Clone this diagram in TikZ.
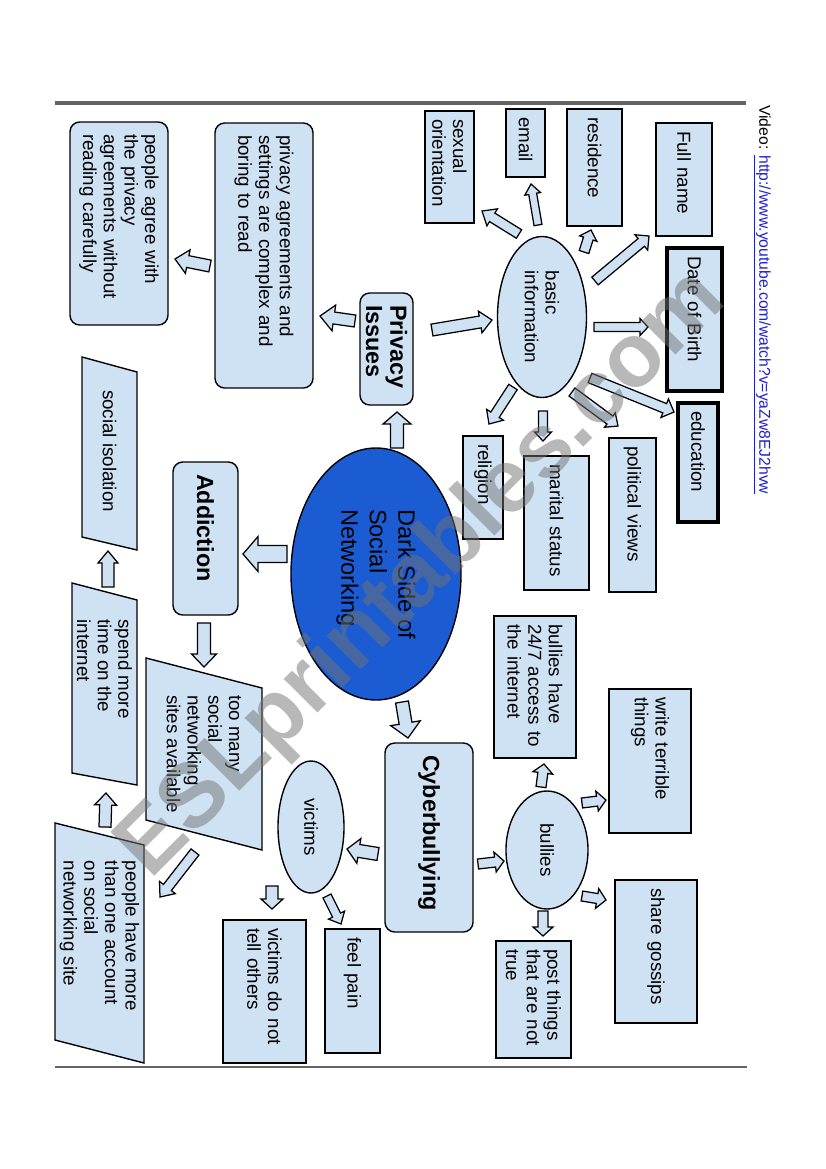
\documentclass[tikz,border=0pt]{standalone}
\usepackage{fontspec}
\setmainfont{Liberation Sans}
\usetikzlibrary{calc,shapes.geometric,backgrounds}
\definecolor{lb}{RGB}{207,226,243}
\definecolor{darkblue}{RGB}{28,92,210}
\definecolor{linegray}{RGB}{100,100,100}
\definecolor{urlblue}{RGB}{30,30,210}
\newcommand\bodyfont{\fontsize{13.5}{14.9}\selectfont}
\newcommand\boldfont{\bfseries\fontsize{16.8}{17.5}\selectfont}
% #1 body width, #2 head width, #3 head length (px), #4 tail, #5 tip
\newcommand\blockarr[5]{%
 \draw[fatarr] let \p1=#4, \p2=#5, \n1={atan2(\y2-\y1,\x2-\x1)}, \n2={veclen(\x2-\x1,\y2-\y1)} in
 ($(\p1)+(\n1+90:#1*0.36pt)$) -- ($(\p1)+(\n1:\n2-#3*0.72pt)+(\n1+90:#1*0.36pt)$) --
 ($(\p1)+(\n1:\n2-#3*0.72pt)+(\n1+90:#2*0.36pt)$) -- (\p2) --
 ($(\p1)+(\n1:\n2-#3*0.72pt)+(\n1-90:#2*0.36pt)$) -- ($(\p1)+(\n1:\n2-#3*0.72pt)+(\n1-90:#1*0.36pt)$) --
 ($(\p1)+(\n1-90:#1*0.36pt)$) -- cycle;}
\tikzset{
 base/.style={rotate=-90, font=\bodyfont, fill=lb, align=left, inner ysep=0pt},
 sq/.style n args={2}{base, draw=black, line width=1.5pt, minimum height=#1*0.72pt,
   minimum width=#2*0.72pt, inner xsep=8*0.72pt, text width=(#2-16)*0.72pt},
 rbox/.style n args={2}{base, draw=black, line width=1pt, rounded corners=7pt, minimum height=#1*0.72pt,
   minimum width=#2*0.72pt, inner xsep=12*0.72pt, text width=(#2-24)*0.72pt},
 ell/.style n args={2}{base, ellipse, draw=black, line width=1pt, inner sep=0pt,
   minimum width=#2*0.72pt, minimum height=#1*0.72pt},
 para/.style={rotate=-90, font=\bodyfont, align=left, inner sep=0pt},
 parashape/.style={draw=black, line width=1pt, fill=lb, line join=miter},
 fatarr/.style={draw=black, line width=0.9pt, fill=lb, line join=miter},
}
\begin{document}
\begin{tikzpicture}[x=0.72pt, y=-0.72pt]
\useasboundingbox (0,0) rectangle (826,1169);
% rules
\draw[linegray, line width=4*0.72pt] (55,103) -- (746,103);
\draw[linegray, line width=1.5*0.72pt] (55,1067) -- (747,1067);
% video link
\node[rotate=-90, anchor=west, inner sep=0pt, font=\fontsize{11.3}{13}\selectfont] (video) at (762,105)
 {Video: \textcolor{urlblue}{\underline{http://www.youtube.com/watch?v=yaZw8EJ2hvw}}};

% central node
\node[ellipse, rotate=-90, draw=black, line width=1pt, fill=darkblue, minimum width=252*0.72pt,
  minimum height=170*0.72pt, inner sep=0pt, align=left, font=\fontsize{17}{20.5}\selectfont] (dark) at (376,574)
  {Dark Side of\\Social\\Networking};

% privacy branch
\node[rbox={53}{112}, font=\boldfont] (privacy) at (386.5,349) {Privacy\\Issues};
\node[rbox={98}{265}] (privag) at (264,255.5) {privacy agreements and\\settings are complex and\\boring to read};
\node[rbox={98}{203}] (agree) at (119,223.5) {people agree with\\the privacy\\agreements without\\reading carefully};
\node[ell={89}{161}] (basic) at (542,317) {basic\\information};
\node[sq={49}{112}] (sexor) at (449.5,167) {sexual\\orientation};
\node[sq={39}{68}] (email) at (525.5,143) {email};
\node[sq={55}{117}] (resid) at (594.5,167.5) {residence};
\node[sq={56}{113}] (fullname) at (684,179.5) {Full name};
\node[sq={55}{143}, line width=2.2pt] (dob) at (694.5,319.5) {Date of Birth};
\node[sq={40}{119}, line width=2.2pt] (educ) at (698,462.5) {education};
\node[sq={47}{154}] (polit) at (632.5,515) {political views};
\node[sq={65}{134}] (marital) at (556.5,523) {marital status};
\node[sq={40}{103}] (relig) at (483,487.5) {religion};

% addiction branch
\node[rbox={65}{153}, font=\boldfont] (addict) at (205.5,538.5) {Addiction};
\node[para] (isol) at (109.5,451) {social isolation};
\node[para] (spend) at (104.5,669) {spend more\\time on the\\internet};
\node[para] (toomany) at (204,754) {too many\\social\\networking\\sites available};
\node[para] (people) at (99.5,936) {people have more\\than one account\\on social\\networking site};
\begin{scope}[on background layer]
\fill[white] (0,0) rectangle (826,1169);
\draw[parashape] ($(isol)+(-27.5,-94)$) -- ($(isol)+(27.5,-79)$) -- ($(isol)+(27.5,99)$) -- ($(isol)+(-27.5,86)$) -- cycle;
\draw[parashape] ($(spend)+(-32.5,-86)$) -- ($(spend)+(32.5,-69)$) -- ($(spend)+(32.5,116)$) -- ($(spend)+(-32.5,104)$) -- cycle;
\draw[parashape] ($(toomany)+(-58,-96)$) -- ($(toomany)+(58,-66)$) -- ($(toomany)+(58,96)$) -- ($(toomany)+(-58,66)$) -- cycle;
\draw[parashape] ($(people)+(-44.5,-113)$) -- ($(people)+(44.5,-91)$) -- ($(people)+(44.5,127)$) -- ($(people)+(-44.5,104)$) -- cycle;
\end{scope}

% cyberbullying branch
\node[rbox={88}{189}, font=\boldfont] (cyber) at (429,837.5) {Cyberbullying};
\node[ell={66}{132}] (victims) at (311,827) {victims};
\node[sq={83}{143}] (tell) at (264.5,991.5) {victims do not\\tell others};
\node[sq={55}{124}] (pain) at (352.5,991) {feel pain};
\node[ell={82}{118}] (bullies) at (547,850) {bullies};
\node[sq={82}{142}] (access) at (535,687) {bullies have\\24/7 access to\\the internet};
\node[sq={82}{144}] (write) at (650,761) {write terrible\\things};
\node[sq={82}{143}] (share) at (656,951.5) {share gossips};
\node[sq={75}{117}] (post) at (533.5,999.5) {post things\\that are not\\true};

% block arrows
\blockarr{12}{26}{14}{($(privacy)+(-31.5,-28)$)}{($(privag)+(56,60.5)$)}
\blockarr{12}{24}{13}{($(privag)+(-54,10.5)$)}{($(agree)+(56,35.5)$)}
\blockarr{13}{28}{12}{($(dark)+(21,-126)$)}{($(privacy)+(10.5,63)$)}
\blockarr{12}{22}{12}{($(privacy)+(45.5,-19)$)}{($(basic)+(-50,3)$)}
\blockarr{9}{17}{8}{($(basic)+(52,10)$)}{($(dob)+(-46.5,7.5)$)}
\blockarr{10}{20}{10}{($(basic)+(53,-36)$)}{($(fullname)+(-35,56.5)$)}
\blockarr{10}{18}{9}{($(basic)+(42,-65)$)}{($(resid)+(-3.5,62.5)$)}
\blockarr{8}{16}{10}{($(basic)+(-4,-92)$)}{($(email)+(5.5,41)$)}
\blockarr{10}{20}{12}{($(basic)+(-23,-83)$)}{($(sexor)+(32.5,44)$)}
\blockarr{10}{20}{10}{($(basic)+(48,61)$)}{($(educ)+(-24,-50.5)$)}
\blockarr{10}{18}{10}{($(basic)+(30,75)$)}{($(polit)+(-14.5,-89)$)}
\blockarr{9}{17}{9}{($(basic)+(1,94)$)}{($(marital)+(-13.5,-82)$)}
\blockarr{10}{20}{11}{($(basic)+(-29,70)$)}{($(relig)+(6,-63.5)$)}
\blockarr{17}{35}{15}{($(dark)+(-89,-20)$)}{($(addict)+(37.5,15.5)$)}
\blockarr{13}{25}{13}{($(addict)+(-1.5,84.5)$)}{($(toomany)+(0,-87)$)}
\blockarr{12}{20}{12}{($(spend)+(3.5,-82)$)}{($(isol)+(-1.5,100)$)}
\blockarr{12}{22}{12}{($(people)+(5.5,-109)$)}{($(spend)+(1.5,124)$)}
\blockarr{10}{20}{12}{($(toomany)+(-9,98)$)}{($(people)+(60.5,-39)$)}
\blockarr{13}{30}{15}{($(dark)+(26,128)$)}{($(cyber)+(-21,-99.5)$)}
\blockarr{13}{25}{12}{($(cyber)+(-51,16.5)$)}{($(victims)+(36,22)$)}
\blockarr{12}{22}{10}{($(victims)+(-39,59)$)}{($(tell)+(7.5,-82.5)$)}
\blockarr{9}{18}{10}{($(victims)+(16,69)$)}{($(pain)+(-11.5,-67)$)}
\blockarr{10}{20}{9}{($(cyber)+(49,26.5)$)}{($(bullies)+(-43,11)$)}
\blockarr{10}{20}{9}{($(bullies)+(-6,-63)$)}{($(access)+(9,77)$)}
\blockarr{10}{20}{9}{($(bullies)+(35,-47)$)}{($(write)+(-44,39)$)}
\blockarr{10}{20}{9}{($(bullies)+(35,46)$)}{($(share)+(-50,-51.5)$)}
\blockarr{10}{20}{9}{($(bullies)+(-4,61)$)}{($(post)+(9.5,-63.5)$)}

% watermark
\node[rotate=45, inner sep=0pt, text=black!55, text opacity=0.5,
  font=\bfseries\fontsize{65}{70}\selectfont] (wm) at (423,575) {ESLprintables.com};
\end{tikzpicture}
\end{document}
